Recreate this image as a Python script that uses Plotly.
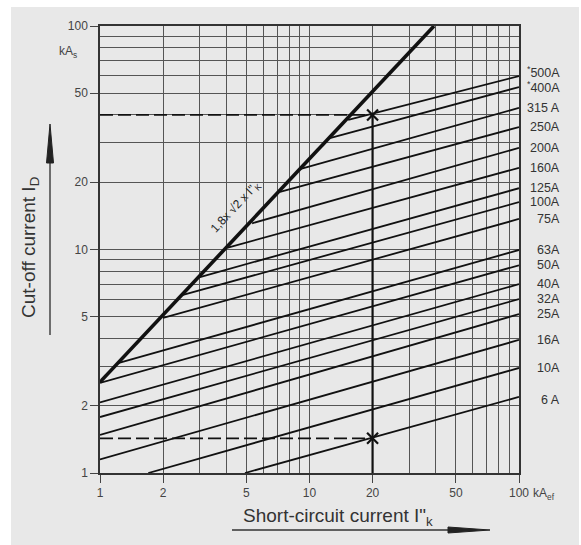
import math
import plotly.graph_objects as go

# ---------------- data ----------------
fuse_labels = ["6 A", "10A", "16A", "25A", "32A", "40A", "50A", "63A", "75A",
               "100A", "125A", "160A", "200A", "250A", "315 A", "400A", "500A"]
fuse_start_x = [4.92, 1.70, 1.0, 1.0, 1.0, 1.0, 1.0, 1.22, 2.0,
                2.49, 3.0, 4.08, 5.32, 7.23, 9.0, 12.5, 15.3]
fuse_start_y = [1.0, 1.0, 1.15, 1.48, 1.78, 2.07, 2.53, 3.1, 4.94,
                6.26, 7.53, 10.2, 13.1, 18.1, 22.9, 31.5, 38.0]
fuse_end_x = 100
fuse_end_y = [2.19, 2.95, 3.94, 5.14, 6.0, 7.0, 8.5, 9.95, 13.7,
              16.3, 18.8, 23.2, 28.5, 35.3, 43.0, 53.3, 59.7]
fuse_starred = ["400A", "500A"]

peak_x = [1, 39.3]
peak_y = [2.55, 100]

example_x = 20
example_hi_y = 40
example_lo_y = 1.43

x_ticks = [1, 2, 5, 10, 20, 50, 100]
y_ticks = [1, 2, 5, 10, 20, 50, 100]
minor_vals = [3, 4, 6, 7, 8, 9, 30, 40, 60, 70, 80, 90]

# ---------------- layout helpers ----------------
W, H = 581, 545
L, R, T, B = 100, 519, 26, 473
def px(x):
    return (x - L) / (R - L)
def py(y):
    return (B - y) / (B - T)

FONT = "Liberation Sans, Arial, sans-serif"
GRID = "#555555"
BG = "#e8e8e8"

fig = go.Figure()

for i, lab in enumerate(fuse_labels):
    fig.add_trace(go.Scatter(
        x=[fuse_start_x[i], fuse_end_x], y=[fuse_start_y[i], fuse_end_y[i]],
        mode="lines", line=dict(color="#111", width=1.8),
        hoverinfo="skip", showlegend=False))

fig.add_trace(go.Scatter(x=peak_x, y=peak_y, mode="lines",
                         line=dict(color="#111", width=3.6),
                         showlegend=False, hoverinfo="skip"))

# example construction
for yv in [example_hi_y, example_lo_y]:
    fig.add_trace(go.Scatter(x=[1, example_x], y=[yv, yv], mode="lines",
                             line=dict(color="#111", width=1.8, dash="13px,5px"),
                             showlegend=False, hoverinfo="skip"))
fig.add_trace(go.Scatter(x=[example_x, example_x], y=[1, example_hi_y], mode="lines",
                         line=dict(color="#111", width=2.2),
                         showlegend=False, hoverinfo="skip"))
fig.add_trace(go.Scatter(x=[example_x, example_x], y=[example_hi_y, example_lo_y],
                         mode="markers",
                         marker=dict(symbol="x-thin", size=11,
                                     line=dict(color="#111", width=2.2)),
                         showlegend=False, hoverinfo="skip"))

axis_common = dict(
    type="log", range=[0, 2], showgrid=True, gridcolor=GRID, gridwidth=1.4,
    showline=True, linecolor="#333", linewidth=1.5, mirror=True,
    ticks="outside", ticklen=8, tickwidth=1.3, tickcolor="#444",
    tickfont=dict(family=FONT, size=12, color="#444"),
    zeroline=False,
    minor=dict(tickvals=minor_vals, showgrid=True, gridcolor=GRID,
               gridwidth=1.4, ticks=""),
)
fig.update_xaxes(tickvals=x_ticks, ticktext=[str(v) for v in x_ticks], **axis_common)
fig.update_yaxes(tickvals=y_ticks, ticktext=[str(v) for v in y_ticks], **axis_common)

label_shift = {"500A": 4, "6 A": -3}

ann = []
# fuse labels at the right
for i, lab in enumerate(fuse_labels):
    text = ("<sup>*</sup>" + lab) if lab in fuse_starred else lab
    ann.append(dict(x=px(562), xref="paper", y=math.log10(fuse_end_y[i]), yref="y",
                    text=text, showarrow=False, xanchor="right", yanchor="middle",
                    yshift=label_shift.get(lab, 0),
                    font=dict(family=FONT, size=12.5, color="#333")))
# unit labels
ann.append(dict(x=px(57), xref="paper", y=py(52), yref="paper",
                text="kA<sub>s</sub>", showarrow=False, xanchor="left", yanchor="middle",
                font=dict(family=FONT, size=12, color="#444")))
ann.append(dict(x=px(531), xref="paper", y=py(494), yref="paper",
                text="kA<sub>ef</sub>", showarrow=False, xanchor="left", yanchor="middle",
                font=dict(family=FONT, size=12, color="#444")))
# diagonal label
ann.append(dict(x=px(236), xref="paper", y=py(207), yref="paper",
                text="1,8x √2 x I\"<sub>K</sub>", showarrow=False, textangle=-47,
                xanchor="center", yanchor="middle",
                font=dict(family=FONT, size=12, color="#222")))
# axis titles
ann.append(dict(x=px(30), xref="paper", y=py(248), yref="paper",
                text="Cut-off current I<sub>D</sub>", showarrow=False, textangle=-90,
                xanchor="center", yanchor="middle",
                font=dict(family=FONT, size=19, color="#333")))
ann.append(dict(x=px(338), xref="paper", y=py(517), yref="paper",
                text="Short-circuit current I\"<sub>k</sub>", showarrow=False,
                xanchor="center", yanchor="middle",
                font=dict(family=FONT, size=19, color="#333")))

shapes = [
    dict(type="rect", xref="paper", yref="paper", x0=px(11), x1=px(579),
         y0=py(7), y1=py(545), fillcolor=BG, line=dict(width=0), layer="below"),
    # y arrow
    dict(type="line", xref="paper", yref="paper", x0=px(50), x1=px(50),
         y0=py(335), y1=py(160), line=dict(color="#444", width=1.5)),
    dict(type="path", xref="paper", yref="paper",
         path=f"M {px(50)} {py(124)} L {px(46.5)} {py(163)} L {px(53.5)} {py(163)} Z",
         fillcolor="#222", line=dict(color="#222", width=1)),
    # x arrow
    dict(type="line", xref="paper", yref="paper", x0=px(232), x1=px(460),
         y0=py(530), y1=py(530), line=dict(color="#333", width=1.5)),
    dict(type="path", xref="paper", yref="paper",
         path=f"M {px(490)} {py(530)} L {px(448)} {py(527)} L {px(448)} {py(533)} Z",
         fillcolor="#222", line=dict(color="#222", width=1)),
]

fig.update_layout(
    width=W, height=H,
    margin=dict(l=L, r=W - R, t=T, b=H - B),
    paper_bgcolor="white", plot_bgcolor=BG,
    annotations=ann, shapes=shapes, showlegend=False,
    font=dict(family=FONT),
)

fig.write_html("out.html")
